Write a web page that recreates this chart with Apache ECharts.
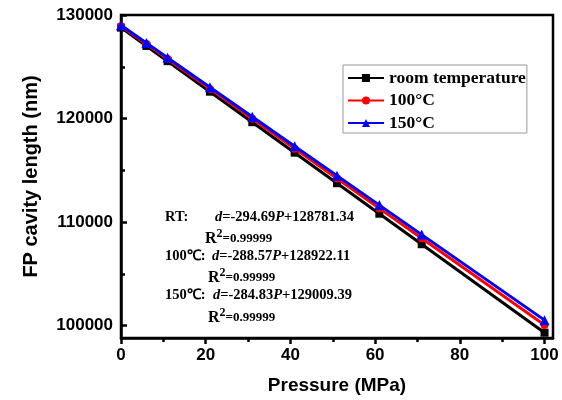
<!DOCTYPE html>
<html>
<head>
<meta charset="utf-8">
<script src="https://cdn.jsdelivr.net/npm/echarts@6/dist/echarts.min.js"></script>
<style>html,body{margin:0;padding:0;background:#fff}#c{width:562px;height:400px}</style>
</head>
<body>
<div id="c"></div>
<script>
const pressure = [0, 6, 11, 21, 31, 41, 51, 61, 71, 100];
const roomTemp = [128781, 127013, 125540, 122593, 119646, 116699, 113752, 110805, 107858, 99312];
const temp100 = [128922, 127191, 125748, 122862, 119976, 117091, 114205, 111319, 108434, 100065];
const temp150 = [129009, 127300, 125876, 123028, 120180, 117331, 114483, 111635, 108786, 100526];
const seriesNames = ['room temperature', '100°C', '150°C'];
const xMajorTicks = [0, 20, 40, 60, 80, 100];
const xMinorTicks = [10, 30, 50, 70, 90];
const yMajorTicks = [100000, 110000, 120000, 130000];
const yMinorTicks = [105000, 115000, 125000];

const chart = echarts.init(document.getElementById('c'));
const pair = arr => pressure.map((p, i) => [p, arr[i]]);
const sans = 'Liberation Sans, Arial, sans-serif';
const serif = 'Liberation Serif, Times New Roman, serif';
const xRange = { min: 0, max: 102 };
const yRange = { min: 98800, max: 130000 };

const eqRich = {
  b: { fontFamily: serif, fontWeight: 'bold', fontSize: 14.5, color: '#000' },
  i: { fontFamily: serif, fontWeight: 'bold', fontStyle: 'italic', fontSize: 14.5, color: '#000' }
};
const r2Rich = {
  r: { fontFamily: serif, fontWeight: 'bold', fontSize: 16, color: '#000' },
  s: { fontFamily: serif, fontWeight: 'bold', fontSize: 12, color: '#000', verticalAlign: 'top', padding: [0, 0, 9, 0] },
  v: { fontFamily: serif, fontWeight: 'bold', fontSize: 13, color: '#000' }
};
function txt(x, y, str, rich) {
  return { type: 'text', left: x, top: y, style: { text: str, rich: rich }, z: 10 };
}

chart.setOption({
  animation: false,
  backgroundColor: '#fff',
  grid: { left: 121, right: 9, top: 15, bottom: 62, show: true, borderColor: '#000', borderWidth: 2.5, containLabel: false },
  legend: {
    orient: 'vertical', left: 343, top: 65,
    data: seriesNames,
    borderColor: '#999', borderWidth: 1, padding: [4, 1, 1, 4],
    itemWidth: 36, itemHeight: 10, itemGap: 4.5,
    textStyle: { fontFamily: serif, fontWeight: 'bold', fontSize: 17.5, lineHeight: 16, color: '#000' }
  },
  xAxis: [
    {
      type: 'value', ...xRange,
      name: 'Pressure (MPa)', nameLocation: 'middle', nameGap: 38,
      nameTextStyle: { fontFamily: sans, fontWeight: 'bold', fontSize: 19, color: '#000' },
      axisLine: { lineStyle: { color: '#000', width: 2.5 } },
      axisTick: { show: true, inside: false, length: 6, lineStyle: { width: 2.5, color: '#000' }, customValues: xMajorTicks },
      axisLabel: { customValues: xMajorTicks, margin: 9, fontFamily: sans, fontWeight: 'bold', fontSize: 17, color: '#000', formatter: v => String(v) },
      splitLine: { show: false }
    },
    {
      type: 'value', ...xRange, position: 'bottom', show: true,
      axisLine: { show: false },
      axisTick: { show: true, inside: false, length: 4, lineStyle: { width: 2.5, color: '#000' }, customValues: xMinorTicks },
      axisLabel: { show: false }, splitLine: { show: false }
    }
  ],
  yAxis: [
    {
      type: 'value', ...yRange,
      name: 'FP cavity length (nm)', nameLocation: 'middle', nameGap: 80,
      nameTextStyle: { fontFamily: sans, fontWeight: 'bold', fontSize: 20, color: '#000' },
      axisLine: { show: true, lineStyle: { color: '#000', width: 2.5 } },
      axisTick: { show: true, inside: true, length: 6, lineStyle: { width: 2.5, color: '#000' }, customValues: yMajorTicks },
      axisLabel: { customValues: yMajorTicks, margin: 8, fontFamily: sans, fontWeight: 'bold', fontSize: 17, color: '#000', formatter: v => String(v) },
      splitLine: { show: false }
    },
    {
      type: 'value', ...yRange, position: 'left', show: true,
      axisLine: { show: false },
      axisTick: { show: true, inside: true, length: 4, lineStyle: { width: 2.5, color: '#000' }, customValues: yMinorTicks },
      axisLabel: { show: false }, splitLine: { show: false }
    }
  ],
  series: [
    { name: seriesNames[0], type: 'line', data: pair(roomTemp), symbol: 'rect', symbolSize: 8,
      lineStyle: { color: '#000', width: 3 }, itemStyle: { color: '#000' }, z: 3 },
    { name: seriesNames[1], type: 'line', data: pair(temp100), symbol: 'circle', symbolSize: 8,
      lineStyle: { color: '#ff0000', width: 3 }, itemStyle: { color: '#ff0000' }, z: 4 },
    { name: seriesNames[2], type: 'line', data: pair(temp150), symbol: 'triangle', symbolSize: 10,
      lineStyle: { color: '#0000ff', width: 3 }, itemStyle: { color: '#0000ff' }, z: 5 }
  ],
  graphic: [
    txt(165, 210, '{b|RT:}', eqRich),
    txt(215, 210, '{i|d}{b|=-294.69}{i|P}{b|+128781.34}', eqRich),
    txt(205, 228, '{r|R}{s|2}{v|=0.99999}', r2Rich),
    txt(165, 249, '{b|100℃:}', eqRich),
    txt(212, 249, '{i|d}{b|=-288.57}{i|P}{b|+128922.11}', eqRich),
    txt(208, 267, '{r|R}{s|2}{v|=0.99999}', r2Rich),
    txt(165, 288, '{b|150℃:}', eqRich),
    txt(213, 288, '{i|d}{b|=-284.83}{i|P}{b|+129009.39}', eqRich),
    txt(208, 307, '{r|R}{s|2}{v|=0.99999}', r2Rich)
  ]
});
</script>
</body>
</html>
